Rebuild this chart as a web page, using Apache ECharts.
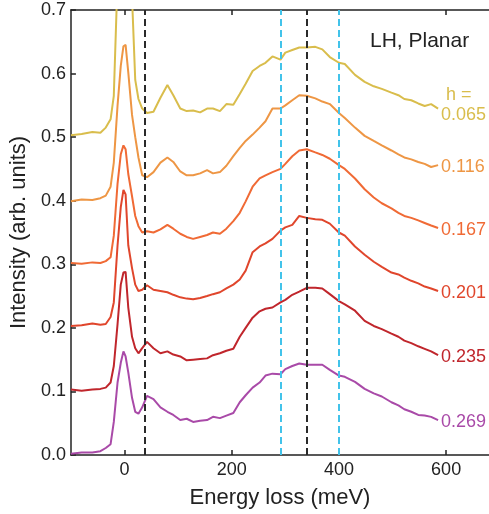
<!DOCTYPE html>
<html>
<head>
<meta charset="utf-8">
<script src="https://cdn.jsdelivr.net/npm/echarts@6/dist/echarts.min.js"></script>
<style>html,body{margin:0;padding:0;background:#fff}#c{width:489px;height:514px}</style>
</head>
<body>
<div id="c"></div>
<script>
const energy = [-100,-80,-60,-45,-35,-26,-20,-13,-7,-2,2,7,14,20,26,33,42,54,67,80,91,104,116,128,141,154,165,178,190,203,215,226,239,252,263,276,291,300,313,326,340,356,369,383,400,411,430,448,465,480,498,511,522,535,548,560,572,585];

const hLabels = ['0.065','0.116','0.167','0.201','0.235','0.269'];

const h065 = [0.503,0.505,0.508,0.507,0.515,0.528,0.565,0.75,0.95,1.0,1.0,0.9,0.72,0.59,0.56,0.545,0.538,0.54,0.562,0.582,0.566,0.545,0.541,0.542,0.539,0.545,0.545,0.541,0.552,0.551,0.568,0.584,0.604,0.612,0.617,0.627,0.622,0.633,0.637,0.641,0.641,0.642,0.638,0.626,0.617,0.615,0.598,0.587,0.58,0.576,0.57,0.566,0.56,0.558,0.553,0.549,0.552,0.545];
const h116 = [0.399,0.402,0.401,0.404,0.408,0.422,0.46,0.55,0.612,0.643,0.645,0.602,0.535,0.5,0.468,0.44,0.437,0.445,0.46,0.468,0.461,0.446,0.44,0.44,0.443,0.448,0.443,0.445,0.455,0.47,0.483,0.494,0.504,0.515,0.525,0.545,0.545,0.55,0.558,0.566,0.565,0.561,0.556,0.552,0.538,0.53,0.515,0.502,0.494,0.487,0.479,0.473,0.468,0.465,0.461,0.458,0.453,0.456];
const h167 = [0.302,0.301,0.303,0.302,0.305,0.311,0.345,0.427,0.473,0.487,0.481,0.442,0.407,0.376,0.36,0.35,0.352,0.35,0.355,0.362,0.356,0.348,0.343,0.34,0.343,0.346,0.35,0.348,0.356,0.368,0.381,0.399,0.422,0.435,0.44,0.445,0.45,0.458,0.47,0.479,0.481,0.476,0.472,0.466,0.456,0.45,0.435,0.418,0.405,0.396,0.388,0.381,0.376,0.373,0.369,0.365,0.361,0.357];
const h201 = [0.203,0.204,0.207,0.205,0.206,0.217,0.24,0.33,0.39,0.417,0.41,0.33,0.294,0.268,0.258,0.26,0.267,0.26,0.258,0.256,0.252,0.248,0.246,0.245,0.247,0.25,0.253,0.256,0.262,0.268,0.276,0.29,0.319,0.328,0.333,0.34,0.353,0.358,0.362,0.376,0.373,0.371,0.37,0.364,0.35,0.345,0.328,0.315,0.304,0.296,0.287,0.284,0.279,0.274,0.27,0.265,0.262,0.258];
const h235 = [0.103,0.101,0.103,0.104,0.106,0.114,0.14,0.206,0.268,0.287,0.288,0.232,0.186,0.168,0.16,0.168,0.178,0.168,0.16,0.163,0.158,0.155,0.149,0.15,0.151,0.152,0.157,0.16,0.164,0.167,0.186,0.2,0.216,0.226,0.23,0.232,0.24,0.244,0.252,0.257,0.263,0.263,0.262,0.253,0.242,0.237,0.227,0.211,0.203,0.198,0.191,0.186,0.18,0.176,0.171,0.167,0.163,0.157];
const h269 = [0.002,0.004,0.004,0.006,0.011,0.017,0.052,0.114,0.145,0.163,0.155,0.13,0.09,0.068,0.065,0.075,0.093,0.088,0.075,0.068,0.063,0.055,0.057,0.052,0.054,0.055,0.06,0.058,0.062,0.066,0.083,0.094,0.106,0.114,0.125,0.128,0.127,0.135,0.14,0.144,0.142,0.142,0.142,0.134,0.125,0.123,0.115,0.104,0.097,0.092,0.083,0.078,0.072,0.068,0.063,0.062,0.06,0.055];

const blackLines = [38, 340];
const cyanLines = [292, 400];
const xTicks = [0, 200, 400, 600];

const seriesValues = [h065, h116, h167, h201, h235, h269];
const colors = ['#d9bd4c', '#ee9644', '#f06a35', '#e0462c', '#c0262c', '#a94aa8'];
const FONT = '"Liberation Sans", Arial, Helvetica, sans-serif';

const chart = echarts.init(document.getElementById('c'), null, {renderer: 'canvas'});

const series = seriesValues.map((vals, i) => ({
  type: 'line',
  name: hLabels[i],
  data: energy.map((e, j) => [e, vals[j]]),
  showSymbol: false,
  symbol: 'none',
  clip: true,
  lineStyle: {color: colors[i], width: 2},
  itemStyle: {color: colors[i]},
  z: 3,
  endLabel: {
    show: true,
    color: colors[i],
    fontSize: 18,
    fontFamily: FONT,
    distance: 3,
    formatter: i === 0 ? '{h|h =}\n{v|' + hLabels[i] + '}' : hLabels[i],
    offset: i === 0 ? [0, -4] : [0, 2],
    rich: i === 0 ? {h: {fontSize: 18, fontFamily: FONT, color: colors[i], padding: [0, 0, 0, 5], lineHeight: 20}, v: {fontSize: 18, fontFamily: FONT, color: colors[i], lineHeight: 20}} : undefined
  }
}));

series.push({
  type: 'line',
  data: [],
  silent: true,
  z: 2,
  markLine: {
    silent: true,
    symbol: ['none', 'none'],
    animation: false,
    label: {show: false},
    data: blackLines.map(v => ({xAxis: v, lineStyle: {color: '#2a2a2a', type: [7, 4], width: 2}}))
      .concat(cyanLines.map(v => ({xAxis: v, lineStyle: {color: '#42c3ea', type: [7, 4], width: 2}})))
  }
});

chart.setOption({
  animation: false,
  backgroundColor: '#fff',
  grid: {left: 67, right: 0, top: 10, bottom: 50, containLabel: false},
  xAxis: [{
    type: 'value', min: -100, max: 680,
    splitLine: {show: false},
    axisLine: {onZero: false, lineStyle: {color: '#222', width: 1.5}},
    axisTick: {inside: true, length: 5, customValues: xTicks, lineStyle: {color: '#222', width: 1.5}},
    axisLabel: {customValues: xTicks, fontSize: 18, fontFamily: FONT, color: '#222', margin: 6},
    name: 'Energy loss (meV)', nameLocation: 'middle', nameGap: 32,
    nameTextStyle: {fontSize: 22, fontFamily: FONT, color: '#222'}
  }, {
    type: 'value', min: -100, max: 680, position: 'top',
    splitLine: {show: false},
    axisLine: {onZero: false, lineStyle: {color: '#222', width: 1.5}},
    axisTick: {inside: true, length: 5, customValues: xTicks, lineStyle: {color: '#222', width: 1.5}},
    axisLabel: {show: false}
  }],
  yAxis: {
    type: 'value', min: 0, max: 0.7, interval: 0.1,
    splitLine: {show: false},
    axisLine: {show: true, onZero: false, lineStyle: {color: '#222', width: 1.5}},
    axisTick: {show: true, inside: true, length: 5, lineStyle: {color: '#222', width: 1.5}},
    axisLabel: {fontSize: 18, fontFamily: FONT, color: '#222', margin: 5, formatter: v => v.toFixed(1)},
    name: 'Intensity (arb. units)', nameLocation: 'middle', nameGap: 31,
    nameTextStyle: {fontSize: 22, fontFamily: FONT, color: '#222'}
  },
  graphic: [{
    type: 'text', left: 370, top: 31,
    style: {text: 'LH, Planar', fontSize: 21, fontFamily: FONT, fill: '#222'}
  }],
  series: series
});
</script>
</body>
</html>
